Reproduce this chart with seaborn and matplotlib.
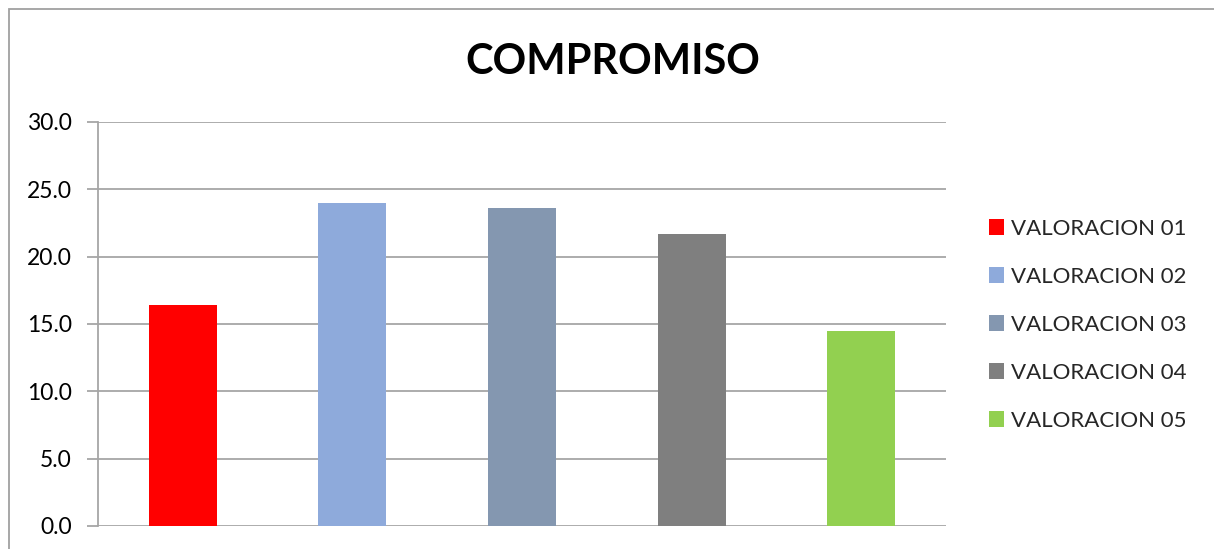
import matplotlib
matplotlib.use("Agg")
import matplotlib.pyplot as plt
import seaborn as sns
import pandas as pd
from matplotlib.patches import Rectangle, Patch

categories = ["VALORACION 01", "VALORACION 02", "VALORACION 03", "VALORACION 04", "VALORACION 05"]
values = [16.4, 24.0, 23.6, 21.7, 14.5]
colors = ["#FF0000", "#8EAADB", "#8497B0", "#7F7F7F", "#92D050"]
yticks = [0, 5, 10, 15, 20, 25, 30]
title = "COMPROMISO"

sns.set_theme(style="white")
plt.rcParams['font.family'] = ['Lato', 'DejaVu Sans']

W, H = 1214, 549
fig = plt.figure(figsize=(W / 100, H / 100), dpi=100)
ax = fig.add_axes([98 / W, 1 - 526 / H, (946 - 98) / W, (526 - 122) / H])

df = pd.DataFrame({"cat": categories, "val": values})
sns.barplot(data=df, x="cat", y="val", hue="cat", palette=colors, width=0.4,
            dodge=False, legend=False, ax=ax, saturation=1, linewidth=0)

ax.set_ylim(0, 30)
ax.set_xlim(-0.5, 4.5)
ax.set_yticks(yticks)
ax.set_yticklabels([f"{v:.1f}" for v in yticks], fontsize=16.5, color="black")
ax.set_xticks([])
ax.set_xlabel("")
ax.set_ylabel("")
ax.yaxis.grid(True, color="#A6A6A6", linewidth=1.3)
ax.set_axisbelow(True)
for s in ["top", "right", "bottom"]:
    ax.spines[s].set_visible(False)
ax.spines["left"].set_color("#A6A6A6")
ax.spines["left"].set_linewidth(1.3)
ax.tick_params(axis="y", which="major", direction="out", length=8, width=1.3,
               color="#A6A6A6", pad=11, left=True)

fig.text(613 / W, 1 - 62 / H, title, ha="center", va="center", fontsize=30,
         fontweight="bold", color="black")

handles = [Patch(facecolor=c, edgecolor="none") for c in colors]
leg = fig.legend(handles, categories, loc="upper left",
                 bbox_to_anchor=(980 / W, 1 - 210 / H), frameon=False,
                 fontsize=16, handlelength=0.7, handleheight=0.7,
                 handletextpad=0.3, labelspacing=1.26, borderaxespad=0)

fig.patches.append(Rectangle((9 / W, -0.1), 1.2, 1 - 9 / H + 0.1,
                             transform=fig.transFigure, fill=False,
                             edgecolor="#A0A0A0", linewidth=1.3))

fig.savefig("out.png", dpi=100)
